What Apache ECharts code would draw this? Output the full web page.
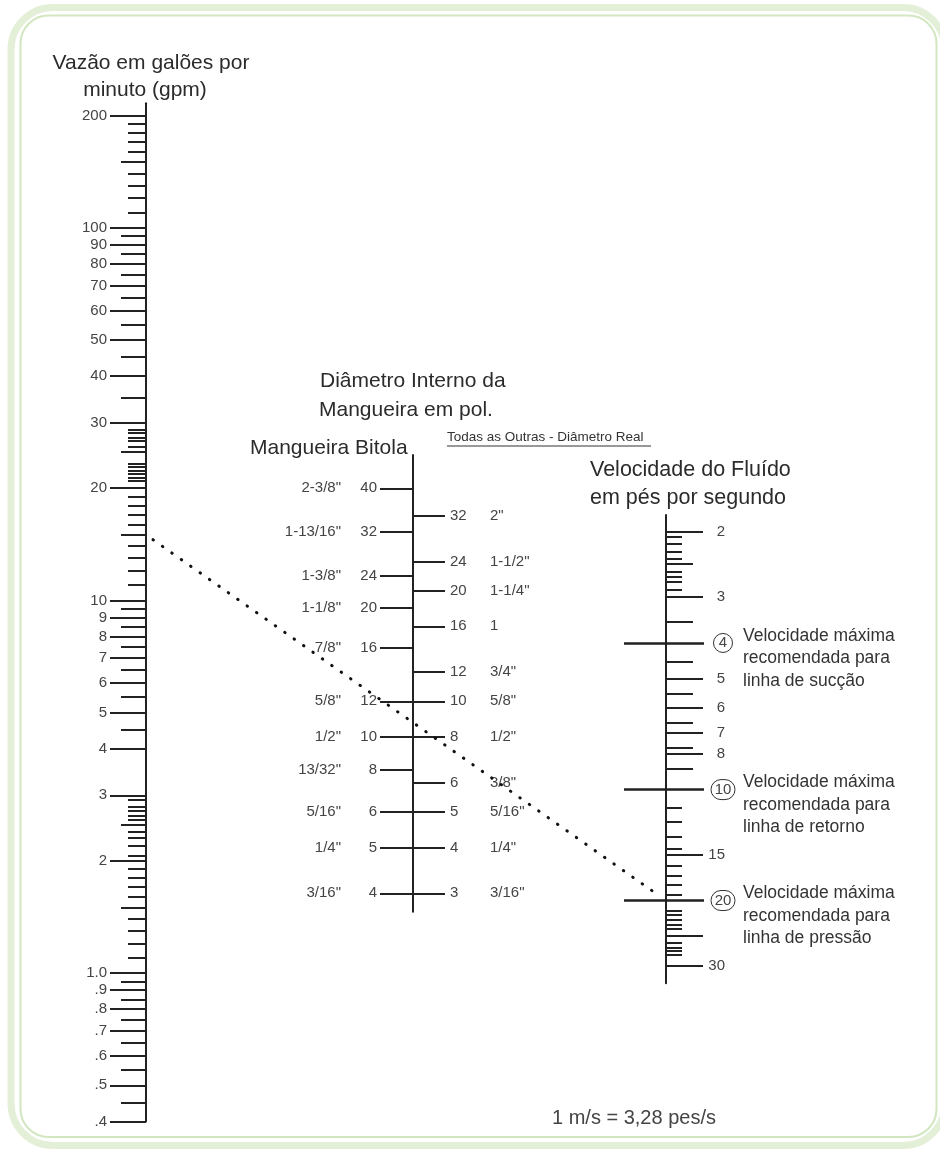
<!DOCTYPE html>
<html><head><meta charset="utf-8">
<script src="https://cdn.jsdelivr.net/npm/echarts@6/dist/echarts.min.js"></script>
<style>html,body{margin:0;padding:0;background:#fff}#c{width:940px;height:1149px}</style>
</head><body><div id="c"></div>
<script>
// ---------- DATA ----------
// Flow scale (gpm)
const flowLabeled = [200,100,90,80,70,60,50,40,30,20,10,9,8,7,6,5,4,3,2,1,0.9,0.8,0.7,0.6,0.5,0.4];
const flowLabels  = ['200','100','90','80','70','60','50','40','30','20','10','9','8','7','6','5','4','3','2','1.0','.9','.8','.7','.6','.5','.4'];
const flowMedium  = [150,95,85,75,65,55,45,35,25,15,9.5,8.5,7.5,6.5,5.5,4.5,2.5,1.5,0.95,0.85,0.75,0.65,0.55,0.45];
const flowMinor   = [190,180,170,160,140,130,120,110,
                     28.7,28.1,27.4,26.8,25.8,23.3,22.8,22.3,21.9,21.4,21.0,
                     19,18,17,16,14,13,12,11,
                     2.92,2.79,2.72,2.65,2.58,2.39,2.31,2.19,2.07,
                     1.9,1.8,1.7,1.6,1.4,1.3,1.2,1.1];
// Hose inside diameter scale (inches)
const bitolaDash = [40,32,24,20,16,12,10,8,6,5,4];
const bitolaSize = ['2-3/8"','1-13/16"','1-3/8"','1-1/8"','7/8"','5/8"','1/2"','13/32"','5/16"','1/4"','3/16"'];
const bitolaDiam = [2.375,1.8125,1.375,1.125,0.875,0.625,0.5,0.40625,0.3125,0.25,0.1875];
const realDash = [32,24,20,16,12,10,8,6,5,4,3];
const realSize = ['2"','1-1/2"','1-1/4"','1','3/4"','5/8"','1/2"','3/8"','5/16"','1/4"','3/16"'];
const realDiam = [2,1.5,1.25,1,0.75,0.625,0.5,0.375,0.3125,0.25,0.1875];
// Fluid velocity scale (ft/s)
const velLabeled = [2,3,5,6,7,8,15,30];
const velLongUnlabeled = [25];
const velCircled = [4,10,20];
const velMedium = [2.44,3.5,4.5,5.5,6.6,7.7,8.8];
const velMinor = [2.06,2.15,2.26,2.36,2.56,2.64,2.73,2.87,
                  11.2,12.2,13.4,14.5,16.1,17.1,18.1,19.3,
                  21.3,21.9,22.5,23.2,23.9,26.1,26.8,27.4,28];
const velNotes = [
  ['Velocidade máxima','recomendada para','linha de sucção'],
  ['Velocidade máxima','recomendada para','linha de retorno'],
  ['Velocidade máxima','recomendada para','linha de pressão']
];
// Example reading (dotted line)
const exampleFlow = 15;
const exampleVelocity = 20;
// Axis extents
const flowRange = [0.4, 215.7];
const diamRange = [0.1671, 2.927];
const velRange  = [1.798, 33.55];

// ---------- CHART ----------
const FONT = "'Liberation Sans', Arial, sans-serif";
const INK = '#222';
function lookup(vals, labels, v) {
  for (let i = 0; i < vals.length; i++) {
    if (Math.abs(vals[i] - v) <= 1e-6 * Math.abs(vals[i]) + 1e-9) return labels[i];
  }
  return '';
}
function yAx(grid, range, o) {
  return {
    type: 'log', logBase: 10, gridIndex: grid, position: 'left',
    min: range[0], max: range[1], inverse: !!o.inverse,
    axisLine: { show: !!o.line, onZero: false, lineStyle: { color: INK, width: 2 } },
    axisTick: { show: !!o.ticks, inside: !!o.inside, length: o.len || 0,
                customValues: o.ticks, lineStyle: { color: INK, width: o.tw || 2 } },
    axisLabel: { show: !!o.labels, inside: !!o.labelInside, customValues: o.labels,
                 margin: o.margin || 0, formatter: o.fmt, color: '#444', fontSize: 15,
                 fontFamily: FONT, align: o.align, rich: o.rich },
    splitLine: { show: false }, splitArea: { show: false }
  };
}
const chart = echarts.init(document.getElementById('c'), null, { renderer: 'canvas' });
const grids = [
  { left: 146, top: 103.3, width: 10, height: 1018.1 },
  { left: 413, top: 455, width: 10, height: 456.7 },
  { left: 666, top: 515, width: 10, height: 468.3 }
];
const xAxes = grids.map((g, i) => ({ type: 'value', gridIndex: i, min: 0, max: 1, show: false }));
const circleRich = {
  c1: { width: 19, height: 19, lineHeight: 19, borderRadius: 10, borderWidth: 1, borderColor: '#333', align: 'center', fontSize: 15, color: '#444', fontFamily: FONT },
  c2: { width: 24, height: 20, lineHeight: 20, borderRadius: 10, borderWidth: 1, borderColor: '#333', align: 'center', fontSize: 15, color: '#444', fontFamily: FONT }
};
const yAxes = [
  // flow
  yAx(0, flowRange, { line: true, ticks: flowLabeled, len: 36, labels: flowLabeled, margin: 39,
    fmt: v => lookup(flowLabeled, flowLabels, v) }),
  yAx(0, flowRange, { ticks: flowMedium, len: 25 }),
  yAx(0, flowRange, { ticks: flowMinor, len: 18 }),
  // diameter
  yAx(1, diamRange, { line: true, ticks: bitolaDiam, len: 33, labels: bitolaDiam, margin: 36,
    fmt: v => String(lookup(bitolaDiam, bitolaDash, v)) }),
  yAx(1, diamRange, { labels: bitolaDiam, margin: 72, fmt: v => lookup(bitolaDiam, bitolaSize, v) }),
  yAx(1, diamRange, { ticks: realDiam, inside: true, len: 32, labels: realDiam, labelInside: true, margin: 37,
    fmt: v => String(lookup(realDiam, realDash, v)) }),
  yAx(1, diamRange, { labels: realDiam, labelInside: true, margin: 77, fmt: v => lookup(realDiam, realSize, v) }),
  // velocity (increasing downward)
  yAx(2, velRange, { inverse: true, line: true, ticks: velLabeled.concat(velLongUnlabeled), inside: true, len: 37,
    labels: velLabeled, labelInside: true, margin: 59, align: 'right', fmt: v => String(Math.round(v)) }),
  yAx(2, velRange, { inverse: true, ticks: velMedium, inside: true, len: 27 }),
  yAx(2, velRange, { inverse: true, ticks: velMinor, inside: true, len: 16 }),
  yAx(2, velRange, { inverse: true, ticks: velCircled, inside: true, len: 38, tw: 2.5, labels: velCircled, labelInside: true,
    margin: 57, align: 'center', rich: circleRich,
    fmt: v => { const s = String(Math.round(v)); return (s.length > 1 ? '{c2|' : '{c1|') + s + '}'; } }),
  yAx(2, velRange, { inverse: true, ticks: velCircled, len: 42, tw: 2.5 })
];
chart.setOption({
  animation: false,
  backgroundColor: '#fff',
  grid: grids,
  xAxis: xAxes,
  yAxis: yAxes,
  series: []
});

// ---------- overlay graphics (positions derived through the axes) ----------
function txt(x, y, text, size, opts) {
  opts = opts || {};
  return { type: 'text', x: x, y: y, silent: true,
    style: { text: text, font: size + 'px ' + FONT, fill: opts.fill || '#2b2b2b',
             align: opts.align || 'left', verticalAlign: 'middle' } };
}
const g = [];
// frame
g.push({ type: 'rect', silent: true, shape: { x: 11, y: 7.5, width: 934, height: 1138, r: 42 },
  style: { fill: 'none', stroke: '#e3efd7', lineWidth: 7 } });
g.push({ type: 'rect', silent: true, shape: { x: 20.5, y: 15.5, width: 916, height: 1121.5, r: 28 },
  style: { fill: 'none', stroke: '#d2e6bf', lineWidth: 2 } });
// titles
g.push(txt(151, 63, 'Vazão em galões por', 21, { align: 'center' }));
g.push(txt(145, 90, 'minuto (gpm)', 21, { align: 'center' }));
g.push(txt(320, 381, 'Diâmetro Interno da', 21));
g.push(txt(319, 410, 'Mangueira em pol.', 21));
g.push(txt(250, 448, 'Mangueira Bitola', 21));
g.push(txt(447, 437, 'Todas as Outras - Diâmetro Real', 13.5, { fill: '#333' }));
g.push({ type: 'line', silent: true, shape: { x1: 447, y1: 446, x2: 651, y2: 446 }, style: { stroke: '#333', lineWidth: 1 } });
g.push(txt(590, 470, 'Velocidade do Fluído', 21.5));
g.push(txt(590, 498, 'em pés por segundo', 21.5));
g.push(txt(552, 1118, '1 m/s = 3,28 pes/s', 20, { fill: '#444' }));
// velocity notes next to circled values
velCircled.forEach((v, i) => {
  const p = chart.convertToPixel({ gridIndex: 2 }, [0, v]);
  velNotes[i].forEach((line, k) => {
    g.push(txt(743, p[1] - 7 + k * 22.5, line, 17.5, { fill: '#333' }));
  });
});
// dotted example line: flow -> velocity
const pA = chart.convertToPixel({ gridIndex: 0 }, [0, exampleFlow]);
const pB = chart.convertToPixel({ gridIndex: 2 }, [0, exampleVelocity]);
const dx = pB[0] - pA[0], dy = pB[1] - pA[1];
const t0 = 7 / dx, t1 = 1 - 14 / dx;
g.push({ type: 'line', silent: true, z: 10,
  shape: { x1: pA[0] + dx * t0, y1: pA[1] + dy * t0, x2: pA[0] + dx * t1, y2: pA[1] + dy * t1 },
  style: { stroke: '#111', lineWidth: 3, lineCap: 'round', lineDash: [0.5, 11] } });
chart.setOption({ graphic: g });
</script>
</body></html>
